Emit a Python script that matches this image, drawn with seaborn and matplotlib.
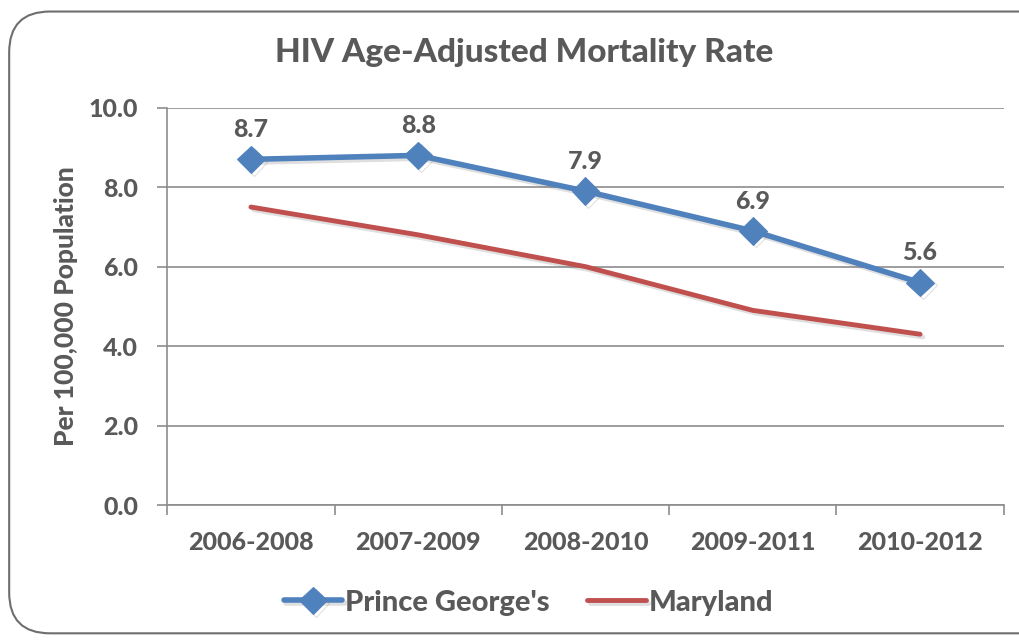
import matplotlib
matplotlib.use("Agg")
import matplotlib.pyplot as plt
import matplotlib.patheffects as pe
from matplotlib.patches import FancyBboxPatch
from matplotlib.ticker import FixedLocator, NullFormatter
import seaborn as sns
import pandas as pd

periods = ["2006-2008", "2007-2009", "2008-2010", "2009-2011", "2010-2012"]
prince_georges = [8.7, 8.8, 7.9, 6.9, 5.6]
maryland = [7.5, 6.8, 6.0, 4.9, 4.3]
y_ticks = [0.0, 2.0, 4.0, 6.0, 8.0, 10.0]

BLUE = "#4F81BD"
RED = "#C0504D"
TXT = "#595959"
GRID = "#8C8C8C"
W = "black"

sns.set_theme(style="white")
plt.rcParams["font.family"] = ["Lato", "DejaVu Sans"]
plt.rcParams["font.weight"] = W

df = pd.DataFrame({
    "period": periods * 2,
    "rate": prince_georges + maryland,
    "area": ["Prince George's"] * 5 + ["Maryland"] * 5,
})

fig = plt.figure(figsize=(10.2, 6.41), dpi=100)
ax = fig.add_axes([0.164, 0.212, 0.820, 0.620])

shadow = [pe.SimpleLineShadow(offset=(2, -2), alpha=0.25, shadow_color="gray"), pe.Normal()]

sns.lineplot(data=df[df.area == "Prince George's"], x="period", y="rate", color=BLUE,
             marker="D", markersize=14, markeredgecolor=BLUE, linewidth=4,
             label="Prince George's", ax=ax, path_effects=shadow, sort=False)
sns.lineplot(data=df[df.area == "Maryland"], x="period", y="rate", color=RED,
             linewidth=3.5, label="Maryland", ax=ax, path_effects=shadow, sort=False)

for i, v in enumerate(prince_georges):
    ax.annotate("%.1f" % v, (i, v), xytext=(0, 13), textcoords="offset points",
                ha="center", va="bottom", fontsize=18, fontweight=W, color=TXT)

ax.set_xlim(-0.5, len(periods) - 0.5)
ax.set_ylim(0, 10)
ax.set_yticks(y_ticks)
ax.set_yticklabels(["%.1f" % t for t in y_ticks])
ax.xaxis.set_minor_locator(FixedLocator([i - 0.5 for i in range(len(periods) + 1)]))
ax.xaxis.set_minor_formatter(NullFormatter())
ax.tick_params(axis="x", which="major", length=0, pad=19, labelsize=18, labelcolor=TXT)
ax.tick_params(axis="x", which="minor", length=7, width=1.2, color=GRID, bottom=True)
ax.tick_params(axis="y", which="major", length=7, width=1.2, color=GRID, left=True,
               pad=14, labelsize=18, labelcolor=TXT)
for lab in ax.get_xticklabels() + ax.get_yticklabels():
    lab.set_fontweight(W)

ax.grid(axis="y", color=GRID, linewidth=1.2)
ax.set_axisbelow(True)
for side in ["top", "right"]:
    ax.spines[side].set_visible(False)
ax.spines["left"].set_color(GRID)
ax.spines["bottom"].set_color(GRID)
ax.spines["left"].set_linewidth(1.2)
ax.spines["bottom"].set_linewidth(1.2)

ax.set_xlabel("")
ax.set_ylabel("Per 100,000 Population", fontsize=19, fontweight=W, color=TXT, labelpad=8)
fig.text(0.514, 0.918, "HIV Age-Adjusted Mortality Rate", ha="center", va="center",
         fontsize=24, fontweight=W, color=TXT)

leg = ax.legend(loc="center", bbox_to_anchor=(0.518, 0.06), bbox_transform=fig.transFigure,
                ncol=2, frameon=False, fontsize=21, handlelength=2.0, handletextpad=0.1,
                columnspacing=1.3)
for t in leg.get_texts():
    t.set_color(TXT)
    t.set_fontweight(W)

frame = FancyBboxPatch((0.009, 0.012), 1.2, 0.97, boxstyle="round,pad=0,rounding_size=0.04",
                       transform=fig.transFigure, fill=False, edgecolor="#6E6E6E",
                       linewidth=1.5, mutation_aspect=1.59)
fig.patches.append(frame)

plt.savefig("out.png", dpi=100)
